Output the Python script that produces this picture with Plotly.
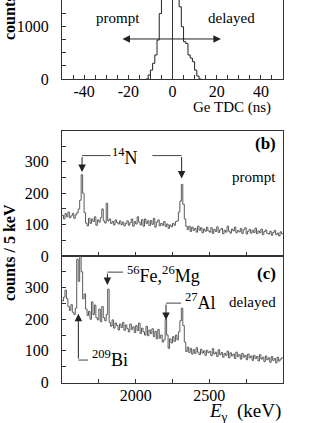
import plotly.graph_objects as go

# Ge TDC histogram, panel (a): left bin edges (ns) and counts per bin
tdc_edges = list(range(-12, 14))
tdc_counts = [0, 76, 170, 300, 460, 745, 1250, 2000, 2800, 3600, 4300, 4700,
              4600, 4000, 2500, 1380, 1000, 713, 680, 460, 400, 330, 170, 57, 0, 0]

# gamma spectra, panels (b) and (c): 10 keV bins starting at 1500 keV
e_edges = list(range(1500, 3000, 10))
prompt_counts = [
    130, 118, 135, 125, 140, 122, 128, 136, 120, 131,
    138, 150, 178, 259, 200, 138, 105, 96, 120, 104,
    118, 110, 125, 98, 115, 108, 122, 150, 112, 105,
    168, 112, 118, 104, 110, 99, 115, 107, 102, 112,
    100, 108, 96, 104, 112, 98, 106, 118, 95, 110,
    102, 125, 108, 99, 116, 95, 118, 104, 112, 97,
    113, 101, 120, 92, 108, 115, 96, 104, 98, 110,
    94, 102, 88, 99, 93, 104, 98, 110, 112, 140,
    175, 228, 165, 118, 95, 84, 95, 78, 92, 82,
    88, 76, 95, 82, 90, 74, 86, 79, 92, 80,
    76, 90, 72, 85, 78, 93, 75, 83, 88, 71,
    82, 76, 95, 79, 73, 86, 80, 92, 74, 81,
    77, 88, 72, 84, 90, 70, 79, 85, 73, 82,
    75, 89, 71, 80, 74, 86, 68, 78, 83, 72,
    70, 79, 66, 75, 82, 68, 73, 64, 77, 71,
]
delayed_counts = [
    258, 270, 292, 265, 240, 228, 246, 222, 215, 235,
    390, 320, 410, 350, 265, 280, 232, 212, 225, 200,
    255, 215, 245, 205, 198, 232, 192, 240, 205, 195,
    215, 295, 190, 178, 198, 172, 188, 180, 166, 185,
    174, 190, 165, 182, 170, 160, 185, 168, 176, 158,
    180, 164, 188, 155, 172, 160, 150, 178, 148, 166,
    155, 170, 145, 162, 138, 168, 140, 150, 128, 135,
    200, 150, 108, 138, 125, 145, 130, 150, 135, 160,
    195, 235, 180, 128, 98, 112, 95, 108, 90, 104,
    92, 110, 96, 88, 105, 93, 100, 86, 102, 94,
    98, 85, 107, 90, 96, 82, 104, 88, 95, 80,
    92, 86, 99, 78, 94, 84, 90, 76, 96, 82,
    88, 74, 92, 80, 86, 72, 90, 78, 84, 70,
    86, 76, 82, 68, 88, 74, 80, 66, 84, 72,
    78, 64, 82, 70, 76, 62, 80, 68, 74, 78,
]

FONT = 'Liberation Serif'
AXC = '#333333'

fig = go.Figure()
fig.add_trace(go.Scatter(x=tdc_edges, y=tdc_counts, mode='lines', line_shape='hv',
                         line=dict(color='#222222', width=1), xaxis='x', yaxis='y'))
fig.add_trace(go.Scatter(x=e_edges + [3000], y=prompt_counts + [prompt_counts[-1]], mode='lines',
                         line_shape='hv', line=dict(color='#5a5a5a', width=1), xaxis='x2', yaxis='y2'))
fig.add_trace(go.Scatter(x=e_edges + [3000], y=delayed_counts + [delayed_counts[-1]], mode='lines',
                         line_shape='hv', line=dict(color='#5a5a5a', width=1), xaxis='x3', yaxis='y3'))

common = dict(showgrid=False, zeroline=False, showline=True, linecolor=AXC, linewidth=1,
              ticks='inside', ticklen=4, tickcolor=AXC, automargin=False,
              tickfont=dict(family=FONT, size=16, color='black'))
xdom = [62 / 327, 283 / 327]

tdc_ticks = list(range(-50, 55, 5))
fig['layout']['xaxis'] = dict(common, domain=xdom, range=[-50, 50], anchor='y', mirror=False,
                              tickvals=tdc_ticks, ticklabelstandoff=-2,
                              ticktext=[str(v) if v % 20 == 0 and abs(v) < 50 else '' for v in tdc_ticks])
fig['layout']['yaxis'] = dict(common, domain=[1 - 79 / 423, 1], range=[0, 1510], anchor='x', mirror=True,
                              tickvals=list(range(0, 1750, 250)), ticklabelstandoff=9,
                              ticktext=['0', '', '', '', '1000', '', ''])

e_ticks = [1750, 2000, 2250, 2500, 2750]
cnt_ticks = list(range(0, 450, 50))
cnt_text = ['0', '', '100', '', '200', '', '300', '', '']
fig['layout']['xaxis2'] = dict(common, domain=xdom, range=[1500, 3000], anchor='y2', mirror=True,
                               tickvals=e_ticks, ticktext=[''] * 5)
fig['layout']['yaxis2'] = dict(common, domain=[1 - 256 / 423, 1 - 130.5 / 423], range=[0, 400], anchor='x2',
                               mirror=True, tickvals=cnt_ticks, ticktext=cnt_text, ticklabelstandoff=9)
fig['layout']['xaxis3'] = dict(common, domain=xdom, range=[1500, 3000], anchor='y3', mirror=True,
                               tickvals=e_ticks, ticktext=['', '2000', '', '2500', ''], ticklabelstandoff=-2)
fig['layout']['yaxis3'] = dict(common, domain=[1 - 382.5 / 423, 1 - 256 / 423], range=[0, 400], anchor='x3',
                               mirror=True, tickvals=cnt_ticks, ticktext=cnt_text, ticklabelstandoff=9)


def txt(text, x, y, xref, yref, size=16, xanchor='center', yanchor='middle', **kw):
    fig.add_annotation(text=text, x=x, y=y, xref=xref, yref=yref, showarrow=False,
                       xanchor=xanchor, yanchor=yanchor,
                       font=dict(family=FONT, size=size, color='black'), **kw)


def arrow(x, y, ax, ay, xref, yref, side='end'):
    fig.add_annotation(text='', x=x, y=y, ax=ax, ay=ay, xref=xref, yref=yref, axref=xref, ayref=yref,
                       showarrow=True, arrowhead=2, arrowsize=1.5, arrowwidth=1, arrowcolor='#222222',
                       arrowside=side, standoff=0, startstandoff=0)


def seg(x0, y0, x1, y1, xref, yref):
    fig.add_shape(type='line', x0=x0, y0=y0, x1=x1, y1=y1, xref=xref, yref=yref,
                  line=dict(color='#444444', width=1))


# panel (a)
fig.add_shape(type='line', x0=0, x1=0, y0=0, y1=1510, xref='x', yref='y', line=dict(color='#333333', width=1))
arrow(21.9, 765, -23.3, 765, 'x', 'y', side='end+start')
txt('prompt', -24.7, 1170, 'x', 'y', size=15)
txt('delayed', 26.5, 1170, 'x', 'y', size=15)
txt('Ge TDC (ns)', 273 / 327, 1 - 107 / 423, 'paper', 'paper', size=15, xanchor='right')
txt('<b>counts / ns</b>', 9 / 327, 1 - 42 / 423, 'paper', 'paper', size=16,
    yanchor='bottom', textangle=-90)

# panel (b)
seg(1636, 320, 1830, 320, 'x2', 'y2')
seg(2113, 320, 2312, 320, 'x2', 'y2')
arrow(1636, 268, 1636, 320, 'x2', 'y2')
arrow(2312, 247, 2312, 320, 'x2', 'y2')
txt('<sup>14</sup>N', 1927, 318, 'x2', 'y2', size=18)
txt('<b>(b)</b>', 2968, 358, 'x2', 'y2', size=17, xanchor='right')
txt('prompt', 2968, 252, 'x2', 'y2', size=15, xanchor='right')

# panel (c)
seg(1808, 349, 1914, 349, 'x3', 'y3')
arrow(1808, 308, 1808, 349, 'x3', 'y3')
txt('<sup>56</sup>Fe,<sup>26</sup>Mg', 1925, 340, 'x3', 'y3', size=18, xanchor='left')
seg(2206, 251, 2308, 251, 'x3', 'y3')
arrow(2206, 198, 2206, 251, 'x3', 'y3')
txt('<sup>27</sup>Al', 2321, 255, 'x3', 'y3', size=18, xanchor='left')
seg(1611, 71, 1676, 71, 'x3', 'y3')
arrow(1611, 217, 1611, 71, 'x3', 'y3')
txt('<sup>209</sup>Bi', 1688, 76, 'x3', 'y3', size=18, xanchor='left')
txt('<b>(c)</b>', 2968, 345, 'x3', 'y3', size=17, xanchor='right')
txt('delayed', 2968, 255, 'x3', 'y3', size=15, xanchor='right')

txt('<b>counts / 5 keV</b>', 9 / 327, 1 - 253 / 423, 'paper', 'paper', size=16, textangle=-90)
txt('<i>E</i><sub>γ</sub>  (keV)', 283 / 327, 1 - 412 / 423, 'paper', 'paper', size=19, xanchor='right')

fig.update_layout(width=327, height=423, margin=dict(l=0, r=0, t=0, b=0), showlegend=False,
                  plot_bgcolor='white', paper_bgcolor='white')
# the page body has a default 8px margin; drop it so the figure sits at the window corner
fig.write_html('out.html', config={'displayModeBar': False},
               post_script="document.body.style.margin='0';")
